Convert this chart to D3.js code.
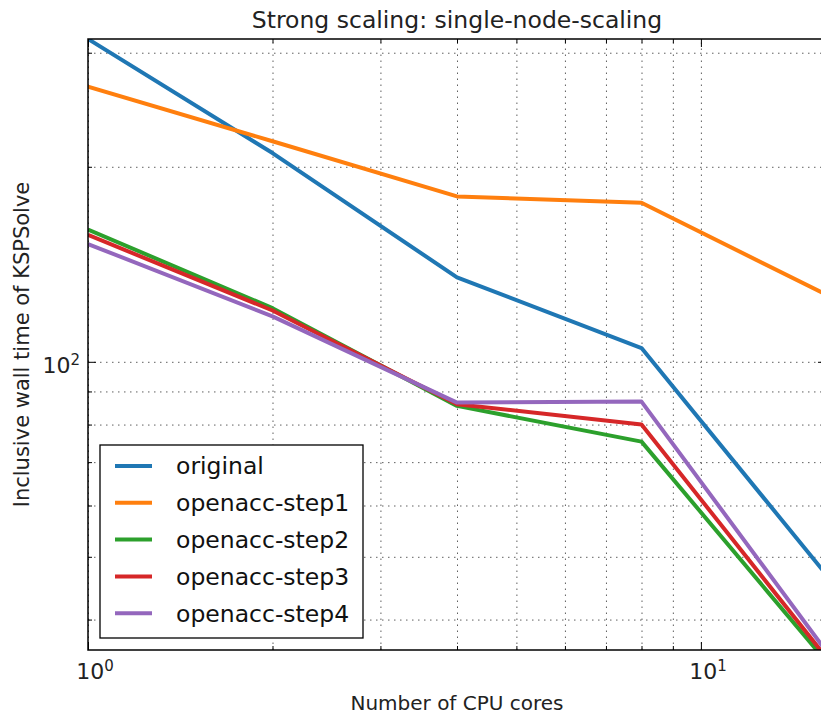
<!DOCTYPE html>
<html>
<head>
<meta charset="utf-8">
<script src="https://cdn.jsdelivr.net/npm/d3@7"></script>
<style>
  body { margin: 0; background: #fff; }
  svg { display: block; font-family: "DejaVu Sans", sans-serif; }
</style>
</head>
<body>
<div id="chart-container"></div>
<script>
const cores = [1, 2, 4, 8, 16];
const seriesNames = ["original", "openacc-step1", "openacc-step2", "openacc-step3", "openacc-step4"];
const original = [315, 210, 135, 105, 47];
const step1 = [266, 219, 180, 176, 127];
const step2 = [160, 121, 85.5, 75.3, 34.5];
const step3 = [157, 120, 86, 80, 35];
const step4 = [152, 117.5, 86.5, 86.8, 35.8];
const seriesColors = ["#1f77b4", "#ff7f0e", "#2ca02c", "#d62728", "#9467bd"];

const xMajor = [1, 10];
const xMinor = [2, 3, 4, 5, 6, 7, 8, 9];
const yMajor = [100];
const yMinor = [40, 50, 60, 70, 80, 90, 200, 300];

const W = 821, H = 715;
const margin = {top: 39, right: -5, bottom: 65, left: 88};
const width = W - margin.left - margin.right;
const height = H - margin.top - margin.bottom;

const svg = d3.select("#chart-container").append("svg")
    .attr("width", W).attr("height", H);
const g = svg.append("g").attr("transform", `translate(${margin.left},${margin.top})`);

const x = d3.scaleLog().domain([1, 16]).range([0, width]);
const y = d3.scaleLog().domain([35.9, 315]).range([height, 0]);

// grid (major + minor), dotted
function grid(axis) {
    return sel => {
        sel.call(axis);
        sel.select(".domain").remove();
        sel.selectAll("line").attr("stroke", "#000").attr("stroke-width", 0.9)
            .attr("stroke-dasharray", "1.5,4.5").attr("opacity", 0.7);
    };
}
g.append("g").attr("transform", `translate(0,${height})`)
    .call(grid(d3.axisBottom(x).tickValues(xMinor.concat(xMajor)).tickSize(-height).tickFormat("")));
g.append("g")
    .call(grid(d3.axisLeft(y).tickValues(yMinor.concat(yMajor)).tickSize(-width).tickFormat("")));

// lines
g.append("clipPath").attr("id", "clip").append("rect").attr("width", width).attr("height", height);
const line = d3.line().x((d, i) => x(cores[i])).y(d => y(d));
const allSeries = [original, step1, step2, step3, step4];
g.append("g").attr("clip-path", "url(#clip)")
  .selectAll("path").data(allSeries).enter().append("path")
    .attr("d", line)
    .attr("fill", "none")
    .attr("stroke", (d, i) => seriesColors[i])
    .attr("stroke-width", 4)
    .attr("stroke-linejoin", "round");

// ticks, inward on all sides
function ticks(axis) {
    return sel => {
        sel.call(axis);
        sel.select(".domain").remove();
        sel.selectAll("line").attr("stroke", "#000").attr("stroke-width", 1);
    };
}
const supFmt = d => Math.round(Math.log10(d));
const bottomMajor = g.append("g").attr("transform", `translate(0,${height})`)
    .call(ticks(d3.axisBottom(x).tickValues(xMajor).tickSize(-8).tickPadding(9)));
g.append("g").attr("transform", `translate(0,${height})`)
    .call(ticks(d3.axisBottom(x).tickValues(xMinor).tickSize(-4).tickFormat("")));
g.append("g").call(ticks(d3.axisTop(x).tickValues(xMajor).tickSize(-8).tickFormat("")));
g.append("g").call(ticks(d3.axisTop(x).tickValues(xMinor).tickSize(-4).tickFormat("")));
const leftMajor = g.append("g")
    .call(ticks(d3.axisLeft(y).tickValues(yMajor).tickSize(-8).tickPadding(8)));
g.append("g").call(ticks(d3.axisLeft(y).tickValues(yMinor).tickSize(-4).tickFormat("")));
g.append("g").attr("transform", `translate(${width},0)`)
    .call(ticks(d3.axisRight(y).tickValues(yMajor).tickSize(-8).tickFormat("")));
g.append("g").attr("transform", `translate(${width},0)`)
    .call(ticks(d3.axisRight(y).tickValues(yMinor).tickSize(-4).tickFormat("")));

function powerLabels(sel) {
    sel.selectAll(".tick text").each(function(d) {
        const t = d3.select(this).text("")
            .attr("font-family", "DejaVu Sans").attr("font-size", 22).attr("fill", "#222");
        t.append("tspan").text("10");
        t.append("tspan").attr("dy", "-0.55em").attr("font-size", 15).text(supFmt(d));
    });
}
bottomMajor.call(powerLabels);
bottomMajor.selectAll(".tick text").attr("dy", "0.9em").attr("dx", "0.3em");
leftMajor.call(powerLabels);
leftMajor.selectAll(".tick text").attr("dy", "0.5em");

// spines
g.append("rect").attr("width", width).attr("height", height)
    .attr("fill", "none").attr("stroke", "#000").attr("stroke-width", 1.5);

// title and axis labels
svg.append("text").attr("x", margin.left + width / 2).attr("y", 28)
    .attr("text-anchor", "middle").attr("font-size", 23.5).attr("fill", "#222")
    .text("Strong scaling: single-node-scaling");
svg.append("text").attr("x", margin.left + width / 2).attr("y", 710)
    .attr("text-anchor", "middle").attr("font-size", 20).attr("fill", "#222")
    .text("Number of CPU cores");
svg.append("text").attr("transform", `translate(29,${margin.top + height / 2}) rotate(-90)`)
    .attr("text-anchor", "middle").attr("font-size", 21).attr("fill", "#222")
    .text("Inclusive wall time of KSPSolve");

// legend
const legend = g.append("g").attr("transform", "translate(12,406)");
legend.append("rect").attr("width", 263).attr("height", 193)
    .attr("fill", "#fff").attr("stroke", "#000").attr("stroke-width", 1.3);
const items = legend.selectAll(".legend-item").data(seriesNames).enter().append("g")
    .attr("class", "legend-item")
    .attr("transform", (d, i) => `translate(0,${21 + i * 36.8})`);
items.append("line").attr("x1", 15).attr("x2", 52)
    .attr("stroke", (d, i) => seriesColors[i]).attr("stroke-width", 4);
items.append("text").attr("x", 76).attr("dy", "0.36em")
    .attr("font-size", 23.5).attr("fill", "#111").text(d => d);
</script>
</body>
</html>
